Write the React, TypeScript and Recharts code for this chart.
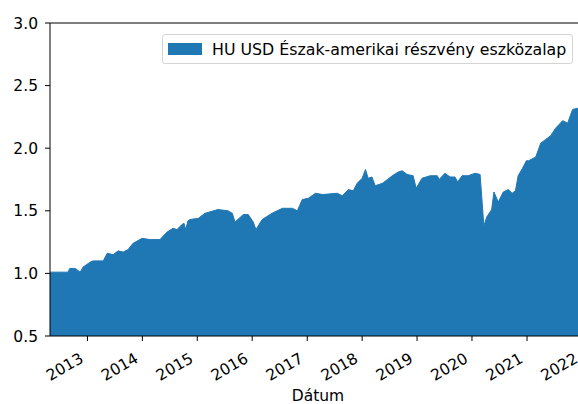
import React from 'react';
import { AreaChart, Area, XAxis, YAxis, ReferenceLine, Legend } from 'recharts';

const SERIES_NAME = 'HU USD Észak-amerikai részvény eszközalap';
const X_LABEL = 'Dátum';

const dates = [
  '2012-04-27', '2012-08-25', '2012-09-05', '2012-10-12', '2012-11-14', '2012-12-02',
  '2013-01-19', '2013-02-06', '2013-04-16', '2013-05-12', '2013-06-21', '2013-07-24',
  '2013-08-26', '2013-09-28', '2013-10-31', '2013-12-30', '2014-02-21', '2014-04-28',
  '2014-06-14', '2014-07-24', '2014-08-19', '2014-09-21', '2014-10-05', '2014-10-16',
  '2014-10-31', '2014-11-14', '2015-01-08', '2015-02-21', '2015-05-19', '2015-07-24',
  '2015-08-22', '2015-09-09', '2015-11-03', '2015-12-06', '2016-01-08', '2016-01-26',
  '2016-03-07', '2016-05-12', '2016-07-20', '2016-09-24', '2016-10-27', '2016-11-29',
  '2017-01-08', '2017-02-25', '2017-04-14', '2017-07-20', '2017-08-22', '2017-10-01',
  '2017-11-03', '2017-11-29', '2018-01-01', '2018-01-23', '2018-02-10', '2018-03-07',
  '2018-03-29', '2018-05-16', '2018-06-18', '2018-07-20', '2018-08-29', '2018-09-24',
  '2018-10-27', '2018-12-06', '2018-12-26', '2019-02-03', '2019-03-29', '2019-05-16',
  '2019-05-27', '2019-07-06', '2019-08-08', '2019-09-10', '2019-09-28', '2019-10-27',
  '2019-12-06', '2020-01-23', '2020-02-24', '2020-03-06', '2020-03-20', '2020-04-08',
  '2020-05-11', '2020-05-26', '2020-06-24', '2020-07-27', '2020-08-29', '2020-09-24',
  '2020-10-16', '2020-11-03', '2020-12-02', '2020-12-28', '2021-01-12', '2021-02-28',
  '2021-04-02', '2021-05-05', '2021-06-07', '2021-07-10', '2021-08-26', '2021-09-28',
  '2021-10-31', '2021-12-10', '2022-01-28',
];

const values = [
  1.01, 1.01, 1.04, 1.04, 1.01, 1.05,
  1.09, 1.10, 1.10, 1.16, 1.15, 1.18,
  1.17, 1.19, 1.24, 1.28, 1.27, 1.27,
  1.33, 1.36, 1.35, 1.39, 1.40, 1.35,
  1.42, 1.43, 1.44, 1.48, 1.51, 1.50,
  1.48, 1.41, 1.47, 1.47, 1.41, 1.35,
  1.43, 1.48, 1.52, 1.52, 1.50, 1.59,
  1.60, 1.64, 1.63, 1.64, 1.62, 1.67,
  1.66, 1.72, 1.76, 1.83, 1.76, 1.77,
  1.70, 1.72, 1.75, 1.78, 1.81, 1.82,
  1.79, 1.78, 1.68, 1.76, 1.78, 1.78,
  1.75, 1.80, 1.77, 1.77, 1.73, 1.78,
  1.78, 1.80, 1.79, 1.61, 1.38, 1.45,
  1.51, 1.65, 1.57, 1.65, 1.67, 1.64,
  1.66, 1.78, 1.84, 1.90, 1.90, 1.93,
  2.04, 2.07, 2.10, 2.16, 2.22, 2.20,
  2.31, 2.32, 2.32,
];

const yearTicks = [2013, 2014, 2015, 2016, 2017, 2018, 2019, 2020, 2021, 2022];
const yTicks = [0.5, 1.0, 1.5, 2.0, 2.5, 3.0];
const xStart = '2012-04-27';
const xEnd = '2022-01-28';

const data = dates.map((d, i) => ({ t: Date.parse(d), v: values[i] }));
const xTicks = yearTicks.map((y) => Date.UTC(y, 0, 1));

const FONT = '"DejaVu Sans", sans-serif';
const FS = 15.5;
const BLUE = '#1f77b4';

const XTick = (props: any) => {
  const { x, y, payload } = props;
  const year = new Date(payload.value).getUTCFullYear();
  const ax = x - 3;
  const ay = y + 18.5;
  return (
    <text
      x={ax}
      y={ay}
      transform={`rotate(-30, ${ax}, ${ay})`}
      textAnchor="end"
      fontSize={FS}
      fontFamily={FONT}
      fill="#000"
    >
      {year}
    </text>
  );
};

const LegendBox = () => (
  <div
    style={{
      boxSizing: 'border-box',
      width: 411,
      height: 30,
      border: '1px solid #d4d4d4',
      borderRadius: 3,
      background: 'rgba(255,255,255,0.85)',
      display: 'flex',
      alignItems: 'center',
      fontFamily: FONT,
      fontSize: 15.8,
      color: '#000',
      whiteSpace: 'nowrap',
    }}
  >
    <span style={{ display: 'inline-block', width: 34, height: 12, background: BLUE, marginLeft: 5 }} />
    <span style={{ marginLeft: 10 }}>{SERIES_NAME}</span>
  </div>
);

export default function App() {
  return (
    <div
      style={{
        position: 'fixed',
        left: 0,
        top: 0,
        width: 578,
        height: 404,
        overflow: 'hidden',
        background: '#fff',
      }}
    >
      <AreaChart width={600} height={404} data={data} margin={{ top: 23, right: 14, bottom: 0, left: 0 }}>
        <XAxis
          dataKey="t"
          type="number"
          domain={[Date.parse(xStart), Date.parse(xEnd)]}
          allowDataOverflow
          ticks={xTicks}
          interval={0}
          tick={<XTick />}
          tickSize={5}
          tickLine={{ stroke: '#000', strokeWidth: 1 }}
          axisLine={{ stroke: '#000', strokeWidth: 1 }}
          height={68}
          label={{ value: X_LABEL, position: 'insideBottom', offset: 3, fontSize: FS, fontFamily: FONT, fill: '#000' }}
        />
        <YAxis
          type="number"
          domain={[0.5, 3]}
          allowDataOverflow
          ticks={yTicks}
          interval={0}
          width={50}
          tickSize={5}
          tickMargin={7}
          tickFormatter={(v: number) => v.toFixed(1)}
          tick={{ fontSize: FS, fontFamily: FONT, fill: '#000' }}
          tickLine={{ stroke: '#000', strokeWidth: 1 }}
          axisLine={{ stroke: '#000', strokeWidth: 1 }}
        />
        <ReferenceLine y={3} stroke="#000" strokeWidth={1} />
        <Legend
          layout="horizontal"
          verticalAlign="middle"
          align="center"
          content={<LegendBox />}
          wrapperStyle={{ position: 'absolute', left: 162, top: 34, width: 411, height: 30 }}
        />
        <Area
          type="linear"
          dataKey="v"
          name={SERIES_NAME}
          stroke={BLUE}
          strokeWidth={1}
          fill={BLUE}
          fillOpacity={1}
          isAnimationActive={false}
        />
      </AreaChart>
    </div>
  );
}
